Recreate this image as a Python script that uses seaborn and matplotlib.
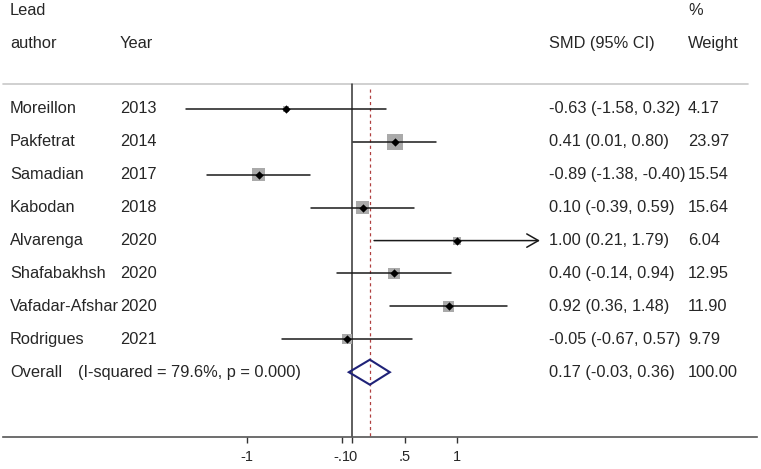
import matplotlib
matplotlib.use("Agg")
import matplotlib.pyplot as plt
import matplotlib.transforms as mtransforms
from matplotlib.patches import Polygon
import seaborn as sns
import pandas as pd

# study data
authors = ["Moreillon", "Pakfetrat", "Samadian", "Kabodan", "Alvarenga",
           "Shafabakhsh", "Vafadar-Afshar", "Rodrigues"]
years = ["2013", "2014", "2017", "2018", "2020", "2020", "2020", "2021"]
smd = [-0.63, 0.41, -0.89, 0.10, 1.00, 0.40, 0.92, -0.05]
ci_low = [-1.58, 0.01, -1.38, -0.39, 0.21, -0.14, 0.36, -0.67]
ci_high = [0.32, 0.80, -0.40, 0.59, 1.79, 0.94, 1.48, 0.57]
weights = [4.17, 23.97, 15.54, 15.64, 6.04, 12.95, 11.90, 9.79]

overall = 0.17
overall_low = -0.03
overall_high = 0.36
overall_label = "(I-squared = 79.6%, p = 0.000)"

tick_values = [-1, -0.1, 0, 0.5, 1]
tick_labels = ["-1", "-.1", "0", ".5", "1"]

sns.set_theme(style="white")
plt.rcParams["font.family"] = ["Liberation Sans", "DejaVu Sans"]

TXT = "#262626"
FS = 11.8

df = pd.DataFrame({"smd": smd, "lo": ci_low, "hi": ci_high, "w": weights,
                   "row": range(len(smd))})

fig = plt.figure(figsize=(7.61, 4.69), dpi=100)
ax = fig.add_axes([3 / 761, 32 / 469, 754 / 761, 437 / 469])
ax.set_xlim(-3.324, 3.857)
ax.set_ylim(9.97, -3.313)

# separator under header
ax.plot([-3.324, 3.77], [-0.76, -0.76], color="#c8c8c8", lw=1.2, clip_on=False)

# null line and overall effect line
ax.plot([0, 0], [-0.76, 9.97], color="#333333", lw=1.1)
ax.plot([overall, overall], [-0.62, 9.97], color="#b04040", lw=0.9, ls=(0, (2.5, 2.5)))

# weight squares
sns.scatterplot(data=df, x="smd", y="row", size="w",
                sizes=(5.54 * min(weights), 5.54 * max(weights)),
                marker="s", color="#aaaaaa", linewidth=0, legend=False, ax=ax, zorder=2)

# confidence intervals
for i, row in df.iterrows():
    if row["hi"] > 1.7:
        ax.annotate("", xy=(row["hi"], i), xytext=(row["lo"], i),
                    arrowprops=dict(arrowstyle="->,head_length=0.7,head_width=0.4",
                                    color="#1a1a1a", lw=1.1, shrinkA=0, shrinkB=0),
                    zorder=3)
    else:
        ax.plot([row["lo"], row["hi"]], [i, i], color="#1a1a1a", lw=1.1, zorder=3)

# point estimates
sns.scatterplot(data=df, x="smd", y="row", marker="D", color="black", s=18,
                linewidth=0, legend=False, ax=ax, zorder=4)

# overall diamond
orow = len(smd)
diamond = Polygon([(overall_low, orow), (overall, orow - 0.38),
                   (overall_high, orow), (overall, orow + 0.38)],
                  closed=True, fill=False, edgecolor="#1f2278", lw=1.5, zorder=4)
ax.add_patch(diamond)

# axis styling
for s in ["top", "left", "right"]:
    ax.spines[s].set_visible(False)
ax.spines["bottom"].set_color("#555555")
ax.spines["bottom"].set_linewidth(1.2)
ax.set_xlabel("")
ax.set_ylabel("")
ax.set_yticks([])
ax.set_xticks(tick_values)
ax.set_xticklabels(tick_labels, fontsize=10.5, color=TXT)
ax.tick_params(axis="x", bottom=True, direction="out", length=4, width=1,
               color="#333333", pad=5)

# text columns
trans = mtransforms.blended_transform_factory(ax.transAxes, ax.transData)
x_author = 7 / 754
x_year = 117 / 754
x_ci = 546 / 754
x_w = 685 / 754


def put(x, y, s):
    ax.text(x, y, s, transform=trans, fontsize=FS, color=TXT, va="center",
            ha="left", clip_on=False)


put(x_author, -3, "Lead")
put(x_author, -2, "author")
put(x_year, -2, "Year")
put(x_w, -3, "%")
put(x_ci, -2, "SMD (95% CI)")
put(x_w, -2, "Weight")

for i in range(len(smd)):
    put(x_author, i, authors[i])
    put(x_year, i, years[i])
    put(x_ci, i, f"{smd[i]:.2f} ({ci_low[i]:.2f}, {ci_high[i]:.2f})")
    put(x_w, i, f"{weights[i]:.2f}")

put(x_author, orow, "Overall")
put(75 / 754, orow, overall_label)
put(x_ci, orow, f"{overall:.2f} ({overall_low:.2f}, {overall_high:.2f})")
put(x_w, orow, "100.00")

plt.savefig("out.png", dpi=100)
plt.close()
